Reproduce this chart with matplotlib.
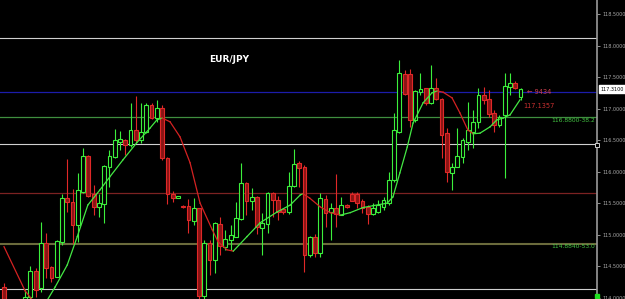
import numpy as np
import matplotlib
matplotlib.use('Agg')
import matplotlib.pyplot as plt

# candle data (open, high, low, close), one per bar
opens = [114.17, 113.90, 113.80, 113.88, 113.95, 114.015, 114.427, 114.158, 114.871, 114.49,
         114.332, 114.887, 115.584, 115.521, 115.156, 115.679, 116.25, 115.647, 115.441, 115.489,
         116.075, 116.234, 116.472, 116.503, 116.424, 116.662, 116.503, 116.63, 117.058, 116.852,
         117.01, 116.218, 115.647, 115.585, 115.46, 115.457, 115.22, 115.426, 114.03, 114.871,
         114.601, 115.172, 114.807, 114.918, 114.966, 115.251, 115.822, 115.537, 115.60, 115.109,
         115.172, 115.663, 115.552, 115.41, 115.362, 115.774, 116.139, 116.075, 114.681, 114.966,
         114.712, 115.568, 115.362, 115.426, 115.315, 115.473, 115.647, 115.647, 115.537, 115.441,
         115.331, 115.362, 115.441, 115.505, 115.869, 116.63, 117.549, 117.549, 116.82, 117.264,
         117.327, 117.09, 117.327, 117.153, 116.614, 115.98, 116.075, 116.234, 116.472, 116.63,
         116.788, 117.216, 117.153, 116.931, 116.741, 116.90, 117.343, 117.407, 117.185]
highs = [114.24, 113.95, 113.92, 113.95, 114.14, 114.506, 114.47, 115.204, 115.03, 114.50,
         114.918, 115.647, 116.202, 115.727, 115.98, 116.377, 116.26, 115.79, 115.647, 116.10,
         116.345, 116.678, 116.646, 116.51, 117.09, 117.20, 117.09, 117.09, 117.09, 117.137,
         117.058, 116.23, 115.69, 115.62, 115.47, 115.568, 115.584, 115.43, 114.918, 114.918,
         115.204, 115.283, 115.08, 115.156, 115.521, 116.139, 115.83, 115.743, 115.61, 115.346,
         115.679, 115.67, 115.616, 115.426, 115.996, 116.36, 116.17, 116.107, 114.98, 115.014,
         115.663, 115.63, 115.505, 115.964, 115.60, 115.489, 115.679, 115.679, 115.568, 115.473,
         115.505, 115.552, 115.60, 115.996, 116.931, 117.771, 117.613, 117.629, 117.29, 117.565,
         117.33, 117.692, 117.486, 117.16, 116.693, 116.139, 116.693, 116.535, 117.105, 116.979,
         117.327, 117.343, 117.296, 116.979, 116.90, 117.565, 117.565, 117.44, 117.327]
lows = [113.85, 113.70, 113.72, 113.75, 113.90, 113.93, 114.015, 114.094, 114.32, 114.253,
        114.33, 114.839, 115.362, 114.855, 114.887, 115.66, 115.60, 115.315, 115.283, 115.188,
        115.758, 116.218, 116.345, 116.266, 116.392, 116.456, 116.456, 116.62, 116.84, 116.788,
        116.19, 115.489, 115.521, 115.58, 115.43, 115.03, 115.156, 113.90, 113.98, 114.364,
        114.40, 114.681, 114.76, 114.76, 114.96, 115.24, 115.315, 115.394, 115.014, 114.681,
        115.03, 115.283, 115.236, 115.331, 115.33, 115.758, 115.758, 114.411, 114.649, 114.649,
        114.649, 115.125, 114.918, 115.125, 115.31, 115.43, 115.53, 115.426, 115.346, 115.172,
        115.32, 115.35, 115.394, 115.473, 115.838, 116.614, 117.216, 116.709, 116.788, 117.216,
        117.058, 117.08, 117.137, 116.218, 115.838, 115.711, 116.07, 116.139, 116.345, 116.377,
        116.693, 117.07, 116.868, 116.63, 116.709, 115.90, 117.216, 117.31, 117.137]
closes = [113.90, 113.80, 113.88, 113.82, 114.015, 114.427, 114.126, 114.871, 114.47, 114.32,
          114.903, 115.584, 115.521, 115.156, 115.711, 116.25, 115.616, 115.441, 115.505, 116.091,
          116.25, 116.503, 116.519, 116.424, 116.662, 116.503, 116.63, 117.058, 116.852, 117.01,
          116.218, 115.647, 115.584, 115.615, 115.44, 115.236, 115.426, 114.03, 114.871, 114.601,
          115.188, 114.823, 114.934, 114.998, 115.267, 115.822, 115.537, 115.60, 115.125, 115.188,
          115.663, 115.552, 115.362, 115.362, 115.774, 116.123, 116.06, 114.681, 114.966, 114.712,
          115.584, 115.346, 115.426, 115.331, 115.473, 115.441, 115.537, 115.505, 115.426, 115.331,
          115.426, 115.473, 115.552, 115.869, 116.662, 117.565, 117.232, 116.82, 117.28, 117.311,
          117.09, 117.327, 117.153, 116.583, 115.996, 116.075, 116.25, 116.503, 116.662, 116.788,
          117.216, 117.137, 116.915, 116.741, 116.868, 117.359, 117.407, 117.327, 117.311]

# colour-changing moving average (bar index, value)
ma_idx = [0, 4, 6, 7.4, 9.7, 12, 13.9, 15.9, 18.2, 20.1, 22.6, 25.2, 27.7, 29, 30,
          31.5, 33.4, 35.3, 37.2, 39.5, 40.6, 42.3, 43.5, 46.1, 48.6, 51.8, 54.3, 56.2, 56.7,
          58, 60, 61.9, 63.8, 65.7, 68.1, 70, 72.7, 73.8, 75.1, 76.5, 77.6, 79.5, 81.2, 82.2,
          83.3, 85, 86.5, 88, 89, 90.3, 92.2, 93.5, 94.7, 96, 97.9]
ma_val = [114.81, 114.11, 113.90, 113.85, 114.17, 114.52, 114.97, 115.47, 115.71, 115.92, 116.19, 116.46, 116.69, 116.82, 116.85,
          116.79, 116.55, 116.14, 115.50, 115.08, 114.89, 114.76, 114.74, 114.97, 115.19, 115.36, 115.47, 115.63, 115.65,
          115.58, 115.44, 115.35, 115.31, 115.35, 115.43, 115.46, 115.50, 115.60, 115.98, 116.39, 116.77, 117.09, 117.25, 117.28,
          117.26, 117.17, 116.93, 116.66, 116.60, 116.61, 116.71, 116.82, 116.85, 116.90, 117.14]

# horizontal levels
white_levels = [118.12, 116.44, 114.14]
blue_level = 117.265
green_level = 116.86
red_level = 115.66
olive_level = 114.855
green_label = '116.8800-38.2'
olive_label = '114.8840-53.0'
last_price = 117.31
ma_last_label = '117.1357'
tick_values = [114.0, 114.5, 115.0, 115.5, 116.0, 116.5, 117.0, 117.5, 118.0, 118.5]

fig = plt.figure(figsize=(6.25, 2.99), dpi=100, facecolor='black')
ax = fig.add_axes([0, 0, 597 / 625, 1])
ax.set_facecolor('black')

x = np.arange(len(opens))
o = np.array(opens)
c = np.array(closes)
bull = c >= o

# level lines
for lv in white_levels:
    ax.axhline(lv, color='#d0d0d0', lw=0.8, zorder=1)
ax.axhline(blue_level, color='#1c1caa', lw=0.9, zorder=1)
ax.axhline(green_level, color='#3f8f3f', lw=0.9, zorder=1)
ax.axhline(red_level, color='#7c2222', lw=0.9, zorder=1)
ax.axhline(olive_level, color='#6b6b3c', lw=1.5, zorder=1)

# wicks and bodies
edge = np.where(bull, '#3cef3c', '#e02828')
face = np.where(bull, '#000000', '#8a1414')
ax.vlines(x, lows, highs, colors=edge, lw=0.8, zorder=3)
bottom = np.minimum(o, c)
height = np.maximum(np.abs(c - o), 0.02)
ax.bar(x, height, bottom=bottom, width=0.72, color=face, edgecolor=edge,
       linewidth=0.8, zorder=4)

# moving average, green while rising, red while falling
for i in range(len(ma_idx) - 1):
    col = '#44e844' if ma_val[i + 1] >= ma_val[i] else '#d42222'
    ax.plot(ma_idx[i:i + 2], ma_val[i:i + 2], color=col, lw=0.9, zorder=5)

ax.set_xlim(-0.76, 112.5)
ax.set_ylim(113.98, 118.722)

# right price axis
for s in ['left', 'top', 'bottom']:
    ax.spines[s].set_visible(False)
ax.spines['right'].set_color('#9a9a9a')
ax.spines['right'].set_linewidth(1.2)
ax.set_xticks([])
ax.yaxis.tick_right()
ax.set_yticks(tick_values)
ax.set_yticklabels(['%.4f' % v for v in tick_values])
ax.tick_params(axis='y', colors='#a8a8a8', labelsize=3.5, length=2, width=0.6, pad=2)

# labels
ax.text(0.384, 0.80, 'EUR/JPY', transform=ax.transAxes, color='white',
        fontsize=6.5, fontweight='bold', ha='center', va='center')
ax.text(0.997, green_level - 0.05, green_label, transform=ax.get_yaxis_transform(),
        color='#44c844', fontsize=4.3, ha='right', va='center')
ax.text(0.997, olive_level - 0.05, olive_label, transform=ax.get_yaxis_transform(),
        color='#44c844', fontsize=4.3, ha='right', va='center')
ax.text(98.6, 117.04, ma_last_label, color='#c83030', fontsize=4.8, ha='left', va='center')
ax.text(99.3, 117.27, '\u2190 9434', color='#d04050', fontsize=4.8, ha='left', va='center')
ax.text(1.006, last_price, '%.4f' % last_price, transform=ax.get_yaxis_transform(),
        color='black', fontsize=3.5, ha='left', va='center',
        bbox=dict(boxstyle='square,pad=0.3', fc='white', ec='white'))

# small markers on the axis edge
ax.plot([1.0], [116.42], marker='s', ms=3, mfc='black', mec='#d0d0d0', mew=0.7,
        transform=ax.get_yaxis_transform(), clip_on=False, zorder=6)
ax.plot([1.0], [114.02], marker='s', ms=3.5, color='#20e020',
        transform=ax.get_yaxis_transform(), clip_on=False, zorder=6)

fig.savefig('out.png', dpi=100, facecolor='black')
